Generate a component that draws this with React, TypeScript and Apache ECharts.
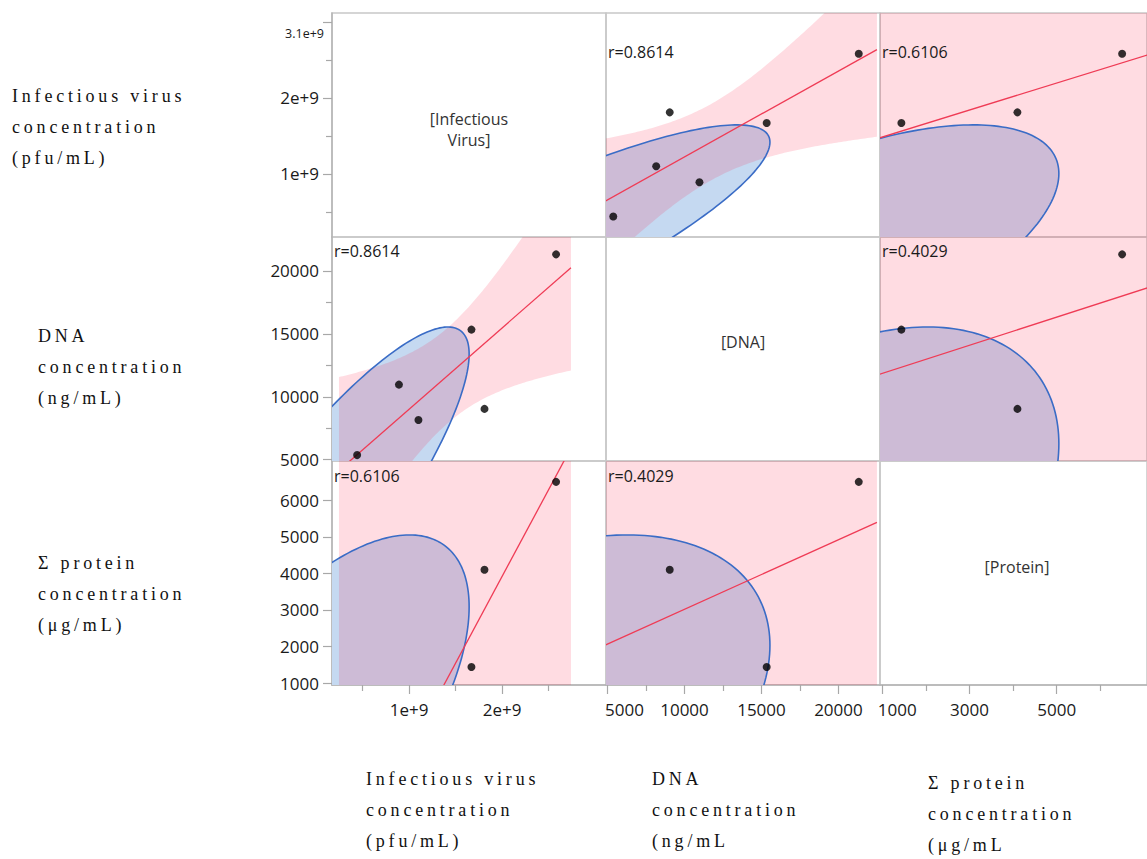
import React, { useEffect, useRef } from "react";
import * as echarts from "echarts";

// ---------------- data ----------------
const diagonalLabels = ["[Infectious\nVirus]", "[DNA]", "[Protein]"];
const virusConc: (number | null)[] = [0.44e9, 1.1e9, 1.81e9, 0.89e9, 1.67e9, 2.58e9];
const dnaConc: (number | null)[] = [5370, 8160, 9040, 10970, 15340, 21320];
const proteinConc: (number | null)[] = [null, null, 4100, null, 1440, 6500];

const correlationVirusDna = 0.8614;
const correlationVirusProtein = 0.6106;
const correlationDnaProtein = 0.4029;

const axisMins = [0.17e9, 4900, 950];
const axisMaxs = [3.117e9, 22700, 7070];
const fitRangeMins = [0.245e9, 4000, 900];
const fitRangeMaxs = [2.74e9, 22500, 7200];
const ellipseCenters = [0, 0, 0];
const ellipseRadii = [1.645e9, 15550, 5050];

const xMajorTicks = [[1e9, 2e9], [5000, 10000, 15000, 20000], [1000, 3000, 5000]];
const xLabelValues = [[1e9, 2e9], [5000, 10000, 15000, 20000], [1000, 3000, 5000]];
const xMinorTicks = [[0.5e9, 1.5e9, 2.5e9], [7500, 12500, 17500], [2000, 4000, 6000]];
const yMajorTicks = [[1e9, 2e9, 3e9], [5000, 10000, 15000, 20000], [1000, 2000, 3000, 4000, 5000, 6000]];
const yLabelValues = [[1e9, 2e9], [5000, 10000, 15000, 20000], [1000, 2000, 3000, 4000, 5000, 6000]];
const yMinorTicks = [[0.5e9, 1.5e9, 2.5e9], [7500, 12500, 17500], []];
const topVirusLabel = "3.1e+9";

const rowTitles = [
  ["Infectious virus", "concentration", "(pfu/mL)"],
  ["DNA", "concentration", "(ng/mL)"],
  ["Σ protein", "concentration", "(μg/mL)"],
];
const columnTitles = [
  ["Infectious virus", "concentration", "(pfu/mL)"],
  ["DNA", "concentration", "(ng/mL"],
  ["Σ protein", "concentration", "(μg/mL"],
];

const tQuantile975: Record<number, number> = { 1: 12.706, 2: 4.303, 3: 3.182, 4: 2.776, 5: 2.571, 6: 2.447 };

// ---------------- layout ----------------
const gridLefts = [332, 606, 880];
const gridTops = [13, 237, 461];
const cellW = 274;
const cellH = 224;
const rLabelY = [52, 251, 476];
const diagLabelY = [129, 342, 567];
const rowTitleX = [12, 38, 38];
const rowTitleY = [[96, 127, 158], [336, 367, 398], [563, 594, 625]];
const colTitleX = [366, 652, 928];
const colTitleY = [[779, 810, 841], [779, 810, 841], [783, 814, 845]];

const TICK_FONT = "Open Sans";
const TITLE_FONT = "Liberation Serif";

const variables = [virusConc, dnaConc, proteinConc];

function correlationFor(a: number, b: number) {
  const key = [a, b].sort().join(",");
  if (key === "0,1") return correlationVirusDna;
  if (key === "0,2") return correlationVirusProtein;
  return correlationDnaProtein;
}

function fitStats(xs: (number | null)[], ys: (number | null)[]) {
  const pts: number[][] = [];
  xs.forEach((x, i) => {
    const y = ys[i];
    if (x != null && y != null) pts.push([x, y]);
  });
  const n = pts.length;
  const mx = pts.reduce((s, p) => s + p[0], 0) / n;
  const my = pts.reduce((s, p) => s + p[1], 0) / n;
  let sxx = 0, sxy = 0, syy = 0;
  for (const [x, y] of pts) {
    sxx += (x - mx) ** 2;
    sxy += (x - mx) * (y - my);
    syy += (y - my) ** 2;
  }
  const b = sxy / sxx;
  const a = my - b * mx;
  const s = Math.sqrt(Math.max(syy - b * sxy, 0) / (n - 2));
  return { pts, n, mx, sxx, a, b, s, t: tQuantile975[n - 2] };
}

function fmt(varIdx: number, v: number) {
  if (varIdx === 0) return `${Math.round(v / 1e9)}e+9`;
  return String(v);
}

function buildOption() {
  const grid: any[] = [];
  const xAxis: any[] = [];
  const yAxis: any[] = [];
  const series: any[] = [];
  const graphic: any[] = [];

  const labelStyle = { fontSize: 17, fontFamily: TICK_FONT, color: "#1a1a1a" };

  for (let row = 0; row < 3; row++) {
    for (let col = 0; col < 3; col++) {
      const k = row * 3 + col;
      grid.push({
        left: gridLefts[col],
        top: gridTops[row],
        width: cellW,
        height: cellH,
        show: true,
        borderColor: "#c8c8c8",
        borderWidth: 1.5,
        backgroundColor: "transparent",
      });
      const bottom = row === 2;
      const left = col === 0;
      xAxis.push({
        type: "value",
        gridIndex: k,
        min: axisMins[col],
        max: axisMaxs[col],
        position: "bottom",
        splitLine: { show: false },
        axisLine: { show: bottom, onZero: false, lineStyle: { color: "#b4b4b4", width: 1.5 } },
        axisTick: { show: bottom, customValues: xMajorTicks[col], length: 9, lineStyle: { color: "#a8a8a8", width: 1.2 } },
        axisLabel: {
          show: bottom,
          customValues: xLabelValues[col],
          margin: 16,
          ...labelStyle,
          formatter: (v: number) => {
            const t = fmt(col, v);
            if ((col === 1 && v === 5000) || (col === 2 && v === 1000)) return `{s|${t}}`;
            return t;
          },
          rich: { s: { ...labelStyle, padding: [0, 0, 0, col === 1 ? 34 : 30] } },
        },
      });
      yAxis.push({
        type: "value",
        gridIndex: k,
        min: axisMins[row],
        max: axisMaxs[row],
        position: "left",
        splitLine: { show: false },
        axisLine: { show: left, onZero: false, lineStyle: { color: "#b4b4b4", width: 1.5 } },
        axisTick: { show: left, customValues: yMajorTicks[row], length: 9, lineStyle: { color: "#a8a8a8", width: 1.2 } },
        axisLabel: {
          show: left,
          customValues: yLabelValues[row],
          margin: 13,
          ...labelStyle,
          formatter: (v: number) => fmt(row, v),
        },
      });

      if (row === col) {
        graphic.push({
          type: "text",
          x: gridLefts[col] + cellW / 2,
          y: diagLabelY[row],
          silent: true,
          style: {
            text: diagonalLabels[row],
            fontSize: 16,
            fontFamily: TICK_FONT,
            fill: "#333",
            lineHeight: 21,
            align: "center",
            verticalAlign: "middle",
            textAlign: "center",
            textVerticalAlign: "middle",
          },
        });
        continue;
      }

      const xs = variables[col];
      const ys = variables[row];
      const fit = fitStats(xs, ys);
      const rho = correlationFor(row, col);
      const cx = ellipseCenters[col], cy = ellipseCenters[row];
      const rx = ellipseRadii[col], ry = ellipseRadii[row];
      const fMin = fitRangeMins[col], fMax = fitRangeMaxs[col];

      series.push({
        type: "custom",
        xAxisIndex: k,
        yAxisIndex: k,
        clip: true,
        silent: true,
        z: 2,
        data: [[axisMins[col], axisMins[row]]],
        renderItem: (params: any, api: any) => {
          const cs = params.coordSys;
          const ell: number[][] = [];
          const q = Math.sqrt(1 - rho * rho);
          for (let i = 0; i <= 240; i++) {
            const th = (i / 240) * Math.PI * 2;
            ell.push(api.coord([cx + rx * Math.cos(th), cy + ry * (rho * Math.cos(th) + q * Math.sin(th))]));
          }
          const upper: number[][] = [];
          const lower: number[][] = [];
          for (let i = 0; i <= 120; i++) {
            const x = fMin + ((fMax - fMin) * i) / 120;
            const yhat = fit.a + fit.b * x;
            const h = fit.t * fit.s * Math.sqrt(1 / fit.n + (x - fit.mx) ** 2 / fit.sxx);
            upper.push(api.coord([x, yhat + h]));
            lower.push(api.coord([x, yhat - h]));
          }
          const band = upper.concat(lower.reverse());
          const p1 = api.coord([fMin, fit.a + fit.b * fMin]);
          const p2 = api.coord([fMax, fit.a + fit.b * fMax]);
          return {
            type: "group",
            clipPath: { type: "rect", shape: { x: cs.x, y: cs.y, width: cs.width, height: cs.height } },
            children: [
              { type: "polygon", shape: { points: ell }, style: { fill: "#c5d9f1", stroke: "none" } },
              { type: "polygon", shape: { points: band }, style: { fill: "rgba(255,20,60,0.15)", stroke: "none" } },
              { type: "polygon", shape: { points: ell }, style: { fill: "none", stroke: "#3a6cc6", lineWidth: 1.6 } },
              { type: "line", shape: { x1: p1[0], y1: p1[1], x2: p2[0], y2: p2[1] }, style: { stroke: "#ef3b55", lineWidth: 1.3 } },
            ],
          };
        },
      });
      series.push({
        type: "scatter",
        xAxisIndex: k,
        yAxisIndex: k,
        silent: true,
        z: 3,
        symbolSize: 8,
        itemStyle: { color: "#000" },
        data: fit.pts,
      });
      graphic.push({
        type: "text",
        x: gridLefts[col] + 2,
        y: rLabelY[row],
        silent: true,
        z: 10,
        style: {
          text: `r=${rho.toFixed(4)}`,
          fontSize: 16,
          fontFamily: TICK_FONT,
          fill: "#1a1a1a",
          align: "left",
          verticalAlign: "middle",
          textAlign: "left",
          textVerticalAlign: "middle",
        },
      });
    }
  }

  // minor tick axes (bottom row x, left column y)
  for (let col = 0; col < 3; col++) {
    const k = 6 + col;
    xAxis.push({
      type: "value",
      gridIndex: k,
      min: axisMins[col],
      max: axisMaxs[col],
      position: "bottom",
      splitLine: { show: false },
      axisLine: { show: false },
      axisTick: { show: true, customValues: xMinorTicks[col], length: 6, lineStyle: { color: "#a8a8a8", width: 1.2 } },
      axisLabel: { show: false },
    });
  }
  for (let row = 0; row < 3; row++) {
    const k = row * 3;
    yAxis.push({
      type: "value",
      gridIndex: k,
      min: axisMins[row],
      max: axisMaxs[row],
      position: "left",
      splitLine: { show: false },
      axisLine: { show: false },
      axisTick: { show: yMinorTicks[row].length > 0, customValues: yMinorTicks[row].length ? yMinorTicks[row] : [axisMins[row]], length: 6, lineStyle: { color: "#a8a8a8", width: 1.2 } },
      axisLabel: { show: false },
    });
  }

  graphic.push({
    type: "text",
    x: 324,
    y: 33,
    silent: true,
    style: {
      text: topVirusLabel,
      fontSize: 12.5,
      fontFamily: TICK_FONT,
      fill: "#1a1a1a",
      align: "right",
      verticalAlign: "middle",
      textAlign: "right",
      textVerticalAlign: "middle",
    },
  });

  rowTitles.forEach((lines, b) => {
    lines.forEach((line, i) => {
      graphic.push({
        type: "text",
        x: rowTitleX[b],
        y: rowTitleY[b][i],
        silent: true,
        style: {
          text: line,
          fontSize: 18,
          fontFamily: TITLE_FONT,
          fill: "#111",
          align: "left",
          verticalAlign: "middle",
          textAlign: "left",
          textVerticalAlign: "middle",
        },
      });
    });
  });
  columnTitles.forEach((lines, b) => {
    lines.forEach((line, i) => {
      graphic.push({
        type: "text",
        x: colTitleX[b],
        y: colTitleY[b][i],
        silent: true,
        style: {
          text: line,
          fontSize: 18,
          fontFamily: TITLE_FONT,
          fill: "#111",
          align: "left",
          verticalAlign: "middle",
          textAlign: "left",
          textVerticalAlign: "middle",
        },
      });
    });
  });

  return { animation: false, backgroundColor: "#ffffff", grid, xAxis, yAxis, series, graphic };
}

const spacedLines = new Set<string>([...rowTitles.flat(), ...columnTitles.flat()]);

export default function App() {
  const ref = useRef<HTMLDivElement>(null);
  useEffect(() => {
    const el = ref.current!;
    const chart = echarts.init(el, null, { renderer: "svg" });
    chart.setOption(buildOption());
    const applySpacing = () => {
      el.querySelectorAll("text").forEach((t) => {
        const s = (t.textContent || "").trim();
        if (spacedLines.has(s)) t.setAttribute("letter-spacing", "3.8");
      });
    };
    applySpacing();
    chart.on("rendered", applySpacing);
    chart.on("finished", applySpacing);
    const timer = setTimeout(applySpacing, 50);
    return () => {
      clearTimeout(timer);
      chart.dispose();
    };
  }, []);
  return (
    <div
      ref={ref}
      style={{ position: "fixed", left: 0, top: 0, width: 1147, height: 859, background: "#fff" }}
    />
  );
}
